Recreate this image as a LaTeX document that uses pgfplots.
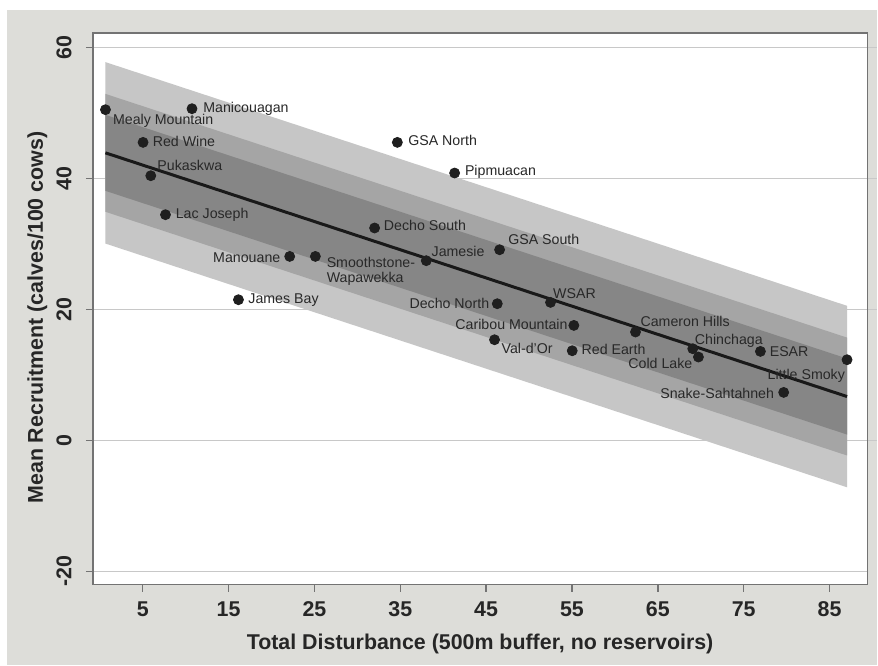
\documentclass[border=0pt]{standalone}
\usepackage{fontspec}
\setmainfont{Liberation Sans}
\usepackage{pgfplots}
\pgfplotsset{compat=1.18}

\definecolor{bg}{RGB}{221,221,217}
\definecolor{framegray}{RGB}{115,115,115}
\definecolor{gridgray}{RGB}{200,200,200}
\definecolor{bandout}{RGB}{198,198,198}
\definecolor{bandmid}{RGB}{165,165,165}
\definecolor{bandin}{RGB}{134,134,134}
\definecolor{labelgray}{RGB}{40,40,40}

\begin{document}
\begin{tikzpicture}
% page and panel background
\fill[white] (-46.5pt,-40.5pt) rectangle (392.5pt,292.5pt);
\fill[bg] (-43pt,-40.5pt) rectangle (392.5pt,287.5pt);
\begin{axis}[
  at={(0pt,0pt)}, anchor=south west,
  scale only axis, width=387.5pt, height=276pt,
  xmin=-0.8, xmax=89.4, ymin=-22, ymax=62.2,
  xtick={5,15,...,85}, ytick={-20,0,20,40,60},
  axis background/.style={fill=white},
  axis line style={draw=framegray, line width=0.75pt},
  tick style={draw=framegray, line width=0.75pt},
  tick align=outside, major tick length=3.5pt,
  xtick pos=bottom, ytick pos=left,
  ymajorgrids, grid style={draw=gridgray, line width=0.7pt},
  /pgf/number format/assume math mode=true,
  ticklabel style={font=\fontsize{10.7}{12}\selectfont\bfseries, text=black!85},
  xticklabel style={anchor=base, inner sep=0pt},
  xticklabel shift=12.35pt,
  yticklabel style={rotate=90, anchor=south, inner sep=0pt},
  yticklabel shift=7pt,
  xlabel={Total Disturbance (500m buffer, no reservoirs)},
  ylabel={Mean Recruitment (calves/100 cows)},
  label style={font=\fontsize{10.7}{12}\selectfont\bfseries, text=black!85, inner sep=0pt},
  xlabel style={at={(axis description cs:0.5,-0.1178)}, anchor=base},
  ylabel style={at={(axis description cs:-0.0645,0.484)}, anchor=base},
  clip=false,
]

% prediction / confidence bands
\addplot[fill=bandout, draw=none] coordinates {
  (0.66,57.75) (87.04,20.55) (87.04,-7.15) (0.66,30.05)} -- cycle;
\addplot[fill=bandmid, draw=none] coordinates {
  (0.66,52.9) (87.04,15.7) (87.04,-2.3) (0.66,34.9)} -- cycle;
\addplot[fill=bandin, draw=none] coordinates {
  (0.66,49.7) (87.04,12.5) (87.04,0.9) (0.66,38.1)} -- cycle;

% regression line
\addplot[black!90, line width=1.5pt] coordinates {(0.66,43.9) (87.04,6.7)};

% herds
\addplot[only marks, mark=*, mark size=2.5pt, black!88] table {
x y
0.66 50.49
10.74 50.64
5.04 45.50
5.94 40.41
7.65 34.46
22.12 28.09
25.11 28.09
16.15 21.48
34.66 45.50
32.01 32.43
38.03 27.44
41.33 40.82
46.57 29.11
46.30 20.87
52.50 21.07
55.22 17.56
45.98 15.37
55.03 13.69
62.40 16.55
69.07 14.00
69.73 12.73
76.95 13.59
87.04 12.32
79.66 7.33
};

% herd names
\addplot[only marks, mark=none, nodes near coords, point meta=explicit symbolic,
  visualization depends on={value \thisrow{dx}\as\dx},
  visualization depends on={value \thisrow{dy}\as\dy},
  visualization depends on={value \thisrow{anc}\as\anc},
  every node near coord/.append style={anchor=\anc, xshift=\dx pt, yshift=\dy pt,
    inner sep=0pt, font=\fontsize{7.1}{8}\selectfont, text=labelgray}]
  table[col sep=comma, row sep=\\, meta=label] {
x,y,dx,dy,anc,label\\
0.66,50.49,3.65,-7.5,base west,Mealy Mountain\\
10.74,50.64,5.5,-2.15,base west,Manicouagan\\
5.04,45.50,4.7,-2.3,base west,Red Wine\\
5.94,40.41,3.15,2.65,base west,Pukaskwa\\
7.65,34.46,5,-1.75,base west,Lac Joseph\\
22.12,28.09,-4.5,-2.8,base east,Manouane\\
25.11,28.09,5.5,-5.3,base west,Smoothstone-\\
25.11,28.09,5.5,-13,base west,Wapawekka\\
16.15,21.48,4.8,-1.75,base west,James Bay\\
34.66,45.50,5.3,-1.75,base west,GSA North\\
32.01,32.43,4.5,-1.45,base west,Decho South\\
38.03,27.44,2.5,2.05,base west,Jamesie\\
41.33,40.82,5,-1.45,base west,Pipmuacan\\
46.57,29.11,4.15,2.4,base west,GSA South\\
46.30,20.87,-3.85,-2.25,base east,Decho North\\
52.50,21.07,1.15,2.1,base west,WSAR\\
55.22,17.56,-3,-2.25,base east,Caribou Mountain\\
45.98,15.37,3.35,-6.75,base west,Val-d'Or\\
55.03,13.69,4.5,-1.75,base west,Red Earth\\
62.40,16.55,2.35,2.7,base west,Cameron Hills\\
69.07,14.00,0.85,2.25,base west,Chinchaga\\
69.73,12.73,-2.85,-5.6,base east,Cold Lake\\
76.95,13.59,4.5,-2.6,base west,ESAR\\
87.04,12.32,-0.85,-9.75,base east,Little Smoky\\
79.66,7.33,-4.65,-2.9,base east,Snake-Sahtahneh\\
};
\end{axis}
% grid lines run on past the right frame
\foreach \g in {72.11,137.67,203.23,268.79} {
  \draw[gridgray, line width=0.7pt] (387.9pt,\g pt) -- (392.5pt,\g pt);
}
\end{tikzpicture}
\end{document}
